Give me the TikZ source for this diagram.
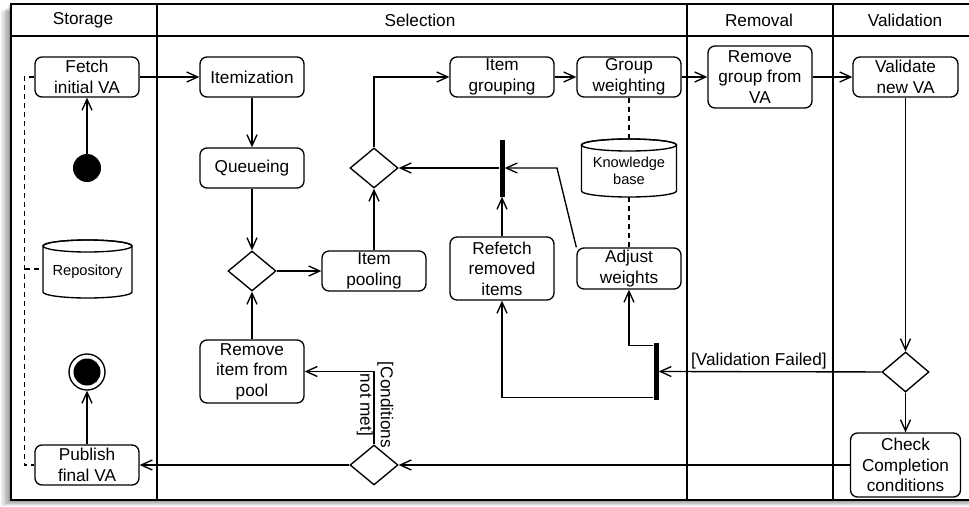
\documentclass[tikz,border=0pt]{standalone}
\usepackage{fontspec}
\setmainfont{Liberation Sans}
\usetikzlibrary{shapes.geometric,arrows.meta,calc}
\newcommand\mycyl[4]{%
 \draw[line width=1.35pt, fill=white] ({#1-#3},{#2-#4+6}) -- ({#1-#3},{#2+#4-6})
   arc[start angle=180, end angle=0, x radius=#3, y radius=6] -- ({#1+#3},{#2-#4+6})
   arc[start angle=0, end angle=-180, x radius=#3, y radius=6] -- cycle;
 \draw[line width=1.35pt] ({#1},{#2-#4+6}) ellipse[x radius=#3, y radius=6];}
\begin{document}
\begin{tikzpicture}[x=1pt,y=-1pt,
  every node/.style={font=\fontsize{17.2}{20.5}\selectfont},
  act/.style={draw, rounded corners=7pt, line width=1.35pt, align=center, inner sep=0pt, minimum width=104pt, minimum height=40pt, fill=white},
  dec/.style={draw, diamond, line width=1.35pt, minimum width=48pt, minimum height=40pt, inner sep=0pt, fill=white},
  barnode/.style={fill=black, inner sep=0pt, minimum width=5pt, minimum height=57pt},
  arr/.style={line width=1.35pt, -{Straight Barb[length=11pt,width=10pt,line width=1.35pt]}},
  dsh/.style={line width=1.35pt, dash pattern=on 5pt off 4pt},
  small/.style={font=\fontsize{14.6}{17}\selectfont, align=center, inner sep=0pt, minimum width=95pt, minimum height=52pt}
]
\useasboundingbox (0,0) rectangle (969,506);
% shadow and frame
\foreach \i in {1,...,6} \fill[black,opacity=0.08] ({11-1.6*\i},{4+1.2*\i}) rectangle (985,{500+\i});
\fill[white] (11,4) rectangle (985,500);
\draw[line width=1.8pt] (11,4) rectangle (985,500);
\draw[line width=1.8pt] (11,36) -- (985,36);
\foreach \x in {157,687,833} \draw[line width=1.8pt] (\x,4) -- (\x,500);
\node (hs) at (83,20) {Storage};
\node (hsel) at (420,20) {Selection};
\node (hr) at (759,20) {Removal};
\node (hv) at (905,20) {Validation};

% storage lane
\node[act] (fetch) at (87,77) {Fetch\\initial VA};
\node[circle, fill=black, minimum size=28pt, inner sep=0pt] (start) at (87,168) {};
\mycyl{87.5}{269}{44.5}{29}
\node[small] (repo) at (87.5,272) {Repository};
\node[circle, draw, line width=1.35pt, minimum size=36pt, inner sep=0pt, fill=white] (final) at (87,372) {};
\fill[black] (final.center) circle[radius=13.5];
\node[act] (publish) at (87,465) {Publish\\final VA};

% selection lane
\node[act] (itemize) at (252,77) {Itemization};
\node[act] (queue) at (252,168) {Queueing};
\node[dec] (d1) at (252,271) {};
\node[act] (pool) at (374,271) {Item\\pooling};
\node[act, minimum height=63pt] (rip) at (252,371.5) {Remove\\item from\\pool};
\node[dec] (d2) at (374,168) {};
\node[act] (ig) at (502,77) {Item\\grouping};
\node[act] (gw) at (629,77) {Group\\weighting};
\node[barnode] (bar1) at (502,168) {};
\mycyl{629}{168}{47.5}{29}
\node[small] (kb) at (629,171) {Knowledge\\base};
\node[act, minimum height=63pt] (refetch) at (502,268.5) {Refetch\\removed\\items};
\node[act, minimum height=41pt] (adj) at (629,268.5) {Adjust\\weights};
\node[barnode] (bar2) at (656,371.5) {};
\node[dec] (d4) at (374,465) {};
\node[rotate=-90, align=center, inner sep=0pt] (cnm) at (375,405) {[Conditions\\not met]};

% removal and validation lanes
\node[act, minimum height=62pt] (rgv) at (760,77) {Remove\\group from\\VA};
\node[act, minimum width=105pt] (val) at (905.5,77) {Validate\\new VA};
\node[dec, minimum width=47pt] (d3) at (905.5,372) {};
\node[act, minimum width=110pt, minimum height=64pt] (check) at (905.5,465) {Check\\Completion\\conditions};

\coordinate (dl) at (25,269);
\coordinate (kbend) at (557,168);

% connectors
\draw[dsh] (fetch.west) -- ++(-10,0) |- (publish.west);
\draw[dsh] (dl) -- (repo.west |- dl);
\draw[arr] (start) -- (fetch);
\draw[arr] (publish) -- (final);
\draw[arr] (fetch) -- (itemize);
\draw[arr] (itemize) -- (queue);
\draw[arr] (queue) -- (d1);
\draw[arr] (d1) -- (pool);
\draw[arr] (rip) -- (d1);
\draw[arr] (pool) -- (d2);
\draw[arr] (d2.north) |- (ig.west);
\draw[arr] (ig) -- (gw);
\draw[arr] (gw) -- (rgv);
\draw[arr] (rgv) -- (val);
\draw[arr] (bar1) -- (d2);
\draw[arr] (refetch.north) -- (refetch.north |- bar1.south);
\draw[arr] (adj.north west) -- (kbend) -- (bar1.east);
\draw[dsh] (gw.south) -- (gw.south |- 0,139);
\draw[dsh] (adj.north |- 0,197) -- (adj.north);
\draw[arr] (val) -- (d3);
\draw[arr] (d3) -- (check);
\draw[arr] (d3) -- node[above, pos=0.55, inner sep=1.5pt] (vf) {[Validation Failed]} (bar2);
\draw[arr] ($(bar2.north west)+(0,3)$) -| (adj.south);
\draw[arr] ($(bar2.south west)+(0,-3)$) -| (refetch.south);
\draw[arr] (check) -- (d4);
\draw[arr] (d4) -- (publish);
\draw[arr] (d4.north) |- (rip.east);
\end{tikzpicture}
\end{document}
